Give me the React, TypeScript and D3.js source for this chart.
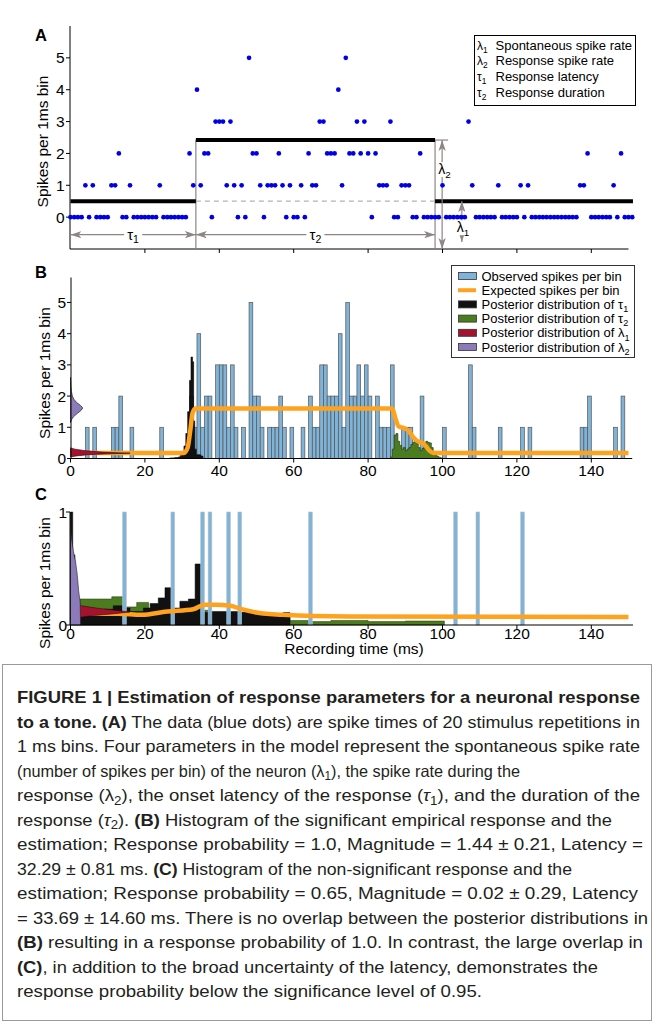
import React from 'react';
import * as d3 from 'd3';

type P = [number, number];

// ---------- DATA ----------
// spike counts per 1 ms bin (panel A dots, panel B histogram)
const spikeCounts = [
  0, 0, 0, 0, 1, 0, 1, 0, 0, 0,
  0, 1, 1, 2, 0, 0, 1, 0, 0, 0,
  0, 0, 0, 0, 1, 0, 0, 0, 0, 0,
  0, 0, 2, 1, 4, 1, 2, 2, 0, 3,
  3, 3, 1, 3, 1, 0, 1, 0, 5, 2,
  2, 1, 0, 1, 1, 1, 2, 1, 0, 1,
  0, 0, 1, 0, 2, 1, 1, 3, 3, 2,
  2, 2, 4, 1, 5, 2, 2, 3, 2, 3,
  2, 0, 2, 1, 1, 1, 3, 0, 0, 1,
  1, 1, 0, 0, 2, 0, 0, 0, 0, 0,
  1, 0, 0, 0, 0, 0, 0, 3, 1, 0,
  0, 0, 0, 0, 0, 1, 0, 0, 0, 0,
  0, 1, 0, 1, 0, 0, 0, 0, 0, 0,
  0, 0, 0, 0, 0, 0, 0, 1, 1, 2,
  0, 0, 0, 0, 0, 0, 1, 0, 2, 0,
  0, 0,
];
const timeTicks = [0, 20, 40, 60, 80, 100, 120, 140];
const countTicks = [0, 1, 2, 3, 4, 5];
const countTicksC = [0, 1];

// panel A model parameters: [tau1 onset, response end, lambda1, lambda2]
const modelA = [33.7, 98, 0.5, 2.42];
// annotation anchors (time of lambda2 arrow, lambda1 arrow; level of tau arrows, bottom of lambda1 arrow)
const annotA = [99.9, 105.2, -0.55, -0.78];

// panel B
const expectedB: P[] = [
  [0, 0.18], [30.5, 0.18], [31.5, 0.35], [32.2, 0.9], [32.8, 1.45], [33.6, 1.6],
  [86.5, 1.6], [87.3, 1.3], [88.2, 1.03], [89.5, 0.98], [90.8, 0.9], [92, 0.7],
  [93.2, 0.56], [94.5, 0.5], [95.5, 0.4], [96.5, 0.25], [97.5, 0.18], [150, 0.18],
];
const tau1PostB: P[] = [
  [26.5, 0.01], [27, 0.02], [28, 0.03], [29, 0.05], [29.5, 0.1], [30, 0.2], [30.5, 0.4],
  [31, 0.8], [31.5, 1.5], [32, 2.5], [32.4, 3.25], [32.8, 3.1], [33.1, 1.2], [33.4, 0.3],
  [33.8, 0.12], [35, 0.08], [35.6, 0],
];
const tau2PostB: P[] = [
  [86, 0.05], [86.5, 0.3], [87, 0.75], [87.5, 0.8], [88, 0.55], [88.5, 0.42], [89, 0.3],
  [89.5, 0.35], [90, 0.25], [90.5, 0.3], [91, 0.35], [91.5, 0.45], [92, 0.52], [92.5, 0.55],
  [93, 0.48], [93.5, 0.35], [94, 0.25], [94.5, 0.32], [95, 0.45], [95.5, 0.55], [96, 0.52],
  [96.5, 0.5], [97, 0.35], [97.5, 0.2], [98, 0.12], [98.5, 0.07], [99, 0.04], [99.5, 0.02], [100, 0],
];
// [rate value, width in ms]
const lambda1PostB: P[] = [
  [0.05, 0], [0.08, 1.5], [0.12, 4.5], [0.15, 10], [0.17, 16], [0.2, 9], [0.25, 4],
  [0.3, 1.2], [0.34, 0],
];
const lambda2PostB: P[] = [
  [1.15, 0], [1.25, 0.3], [1.35, 0.9], [1.45, 1.9], [1.55, 2.9], [1.62, 3.3], [1.7, 2.7],
  [1.8, 1.6], [1.9, 0.9], [2.0, 0.5], [2.15, 0.25], [2.3, 0.12], [2.5, 0.04], [2.6, 0],
];

// panel C
const spikeBinsC = [14, 27, 35, 37, 42, 45, 64, 103, 109, 121];
const expectedC: P[] = [
  [0, 0.1], [13, 0.1], [19, 0.09], [26, 0.12], [33, 0.14], [36, 0.18], [39, 0.18],
  [43, 0.17], [46, 0.14], [50, 0.11], [57, 0.09], [75, 0.075], [150, 0.07],
];
const tau1PostC: P[] = [
  [0, 1.0], [0.6, 0.62], [1.2, 0.35], [1.8, 0.2], [2.5, 0.13], [5, 0.12], [9, 0.14],
  [11.5, 0.17], [14.2, 0.15], [16, 0.12], [19.6, 0.15], [21.4, 0.19], [23.6, 0.24],
  [25.4, 0.33], [27.2, 0.15], [29.4, 0.21], [31.7, 0.23], [33.5, 0.54], [35.3, 0.11],
  [37.5, 0.12], [45, 0.11], [51.8, 0.08], [57.2, 0.11], [59, 0],
];
const tau2PostC: P[] = [
  [2.5, 0.23], [11.1, 0.25], [14.2, 0.16], [17.8, 0.2], [21, 0.14], [27, 0.1],
  [35.3, 0.13], [37.5, 0.11], [52, 0.1], [59, 0.04], [64, 0.03], [70, 0.04], [80, 0.03],
  [90, 0.035], [100.5, 0],
];
const lambda1PostC: P[] = [
  [0.04, 0], [0.06, 1], [0.08, 5], [0.1, 12], [0.115, 16], [0.13, 12], [0.15, 7],
  [0.17, 3], [0.19, 0.8], [0.21, 0],
];
const lambda2PostC: P[] = [
  [0, 2.7], [0.2, 2.6], [0.3, 2.2], [0.45, 1.8], [0.55, 1.4], [0.65, 0.8], [0.73, 0.4],
  [0.8, 0.15], [0.9, 0.05], [1.0, 0],
];

// legends
const legendA: [string, string, string][] = [
  ['λ', '1', 'Spontaneous spike rate'],
  ['λ', '2', 'Response spike rate'],
  ['τ', '1', 'Response latency'],
  ['τ', '2', 'Response duration'],
];
const legendB: [string, string, string, string][] = [
  ['Observed spikes per bin', '', '', 'obs'],
  ['Expected spikes per bin', '', '', 'exp'],
  ['Posterior distribution of ', 'τ', '1', 'tau1'],
  ['Posterior distribution of ', 'τ', '2', 'tau2'],
  ['Posterior distribution of ', 'λ', '1', 'lam1'],
  ['Posterior distribution of ', 'λ', '2', 'lam2'],
];

// caption
type Seg = [string, string?];
const captionLines: Seg[][] = [
  [['FIGURE 1 | Estimation of response parameters for a neuronal response', 'b']],
  [['to a tone. (A)', 'b'], [' The data (blue dots) are spike times of 20 stimulus repetitions in']],
  [['1 ms bins. Four parameters in the model represent the spontaneous spike rate']],
  [['(number of spikes per bin) of the neuron (λ'], ['1', 's'], ['), the spike rate during the']],
  [['response (λ'], ['2', 's'], ['), the onset latency of the response ('], ['τ', 'i'], ['1', 's'], ['), and the duration of the']],
  [['response ('], ['τ', 'i'], ['2', 's'], ['). '], ['(B)', 'b'], [' Histogram of the significant empirical response and the']],
  [['estimation; Response probability = 1.0, Magnitude = 1.44 ± 0.21, Latency =']],
  [['32.29 ± 0.81 ms. '], ['(C)', 'b'], [' Histogram of the non-significant response and the']],
  [['estimation; Response probability = 0.65, Magnitude = 0.02 ± 0.29, Latency']],
  [['= 33.69 ± 14.60 ms. There is no overlap between the posterior distributions in']],
  [['(B)', 'b'], [' resulting in a response probability of 1.0. In contrast, the large overlap in']],
  [['(C)', 'b'], [', in addition to the broad uncertainty of the latency, demonstrates the']],
  [['response probability below the significance level of 0.95.']],
];
const captionRight = [640, 640, 640, 520, 640, 612, 643, 572, 638, 648, 643, 598, 482];

// ---------- STYLE ----------
const FONT = "'Liberation Sans', Arial, Helvetica, sans-serif";
const C_ORANGE = '#ffa31f';
const C_BLUEBAR = '#7fb3d8';
const C_GREEN = '#4b7d20';
const C_RED = '#a3122f';
const C_PURPLE = '#8c7bbb';
const C_BLACK = '#111111';
const C_GRAY = '#8e8585';

const x = d3.scaleLinear().domain([0, 150]).range([70.5, 628.5]);
const yA = d3.scaleLinear().domain([-1, 6]).range([249, 26]);
const yB = d3.scaleLinear().domain([0, 5.8]).range([458.5, 277.5]);
const yC = d3.scaleLinear().domain([0, 1]).range([625, 512]);

const stepArea = (y: d3.ScaleLinear<number, number>) =>
  d3.area<P>().curve(d3.curveStepAfter).x((d) => x(d[0])).y0(y(0)).y1((d) => y(d[1]));
const hArea = (y: d3.ScaleLinear<number, number>) =>
  d3.area<P>().curve(d3.curveLinear).y((d) => y(d[0])).x0(x(0)).x1((d) => x(d[1]));
const smoothLine = (y: d3.ScaleLinear<number, number>) =>
  d3.line<P>().curve(d3.curveMonotoneX).x((d) => x(d[0])).y((d) => y(d[1]));

function YAxis({ y, ticks, x0, top, bottom, labelX }: any) {
  return (
    <g>
      <line x1={x0} x2={x0} y1={top} y2={bottom} stroke="#000" strokeWidth={1} />
      {ticks.map((t: number) => (
        <g key={t}>
          <line x1={x0 - 4} x2={x0} y1={y(t)} y2={y(t)} stroke="#000" strokeWidth={1} />
          <text x={labelX} y={y(t)} dy="0.36em" textAnchor="end" fontSize={15.5} fontFamily={FONT}>
            {t}
          </text>
        </g>
      ))}
    </g>
  );
}

function XAxis({ yPos, ticks, labels, labelY, end, x0 }: any) {
  return (
    <g>
      <line x1={x0} x2={end} y1={yPos} y2={yPos} stroke="#000" strokeWidth={1} />
      {ticks.map((t: number) => (
        <g key={t}>
          <line x1={x(t)} x2={x(t)} y1={yPos} y2={yPos + 4} stroke="#000" strokeWidth={1} />
          {labels && (
            <text x={x(t)} y={labelY} textAnchor="middle" fontSize={15.5} fontFamily={FONT}>
              {t}
            </text>
          )}
        </g>
      ))}
    </g>
  );
}

function SubSym({ sym, sub, size }: { sym: string; sub: string; size: number }) {
  return (
    <>
      <tspan>{sym}</tspan>
      <tspan fontSize={size * 0.7} dy={size * 0.25}>
        {sub}
      </tspan>
      <tspan dy={-size * 0.25}></tspan>
    </>
  );
}

export default function App() {
  const [tau1, tauEnd, lam1, lam2] = modelA;
  const [tLam2Arrow, tLam1Arrow, tauArrowLevel, lam1ArrowBottom] = annotA;
  const yTau = yA(tauArrowLevel);

  const capFont = 16.5;
  const capX = 17;
  const subShift = 3.5;

  return (
    <svg
      width={654}
      height={1025}
      style={{ position: 'absolute', left: 0, top: 0, background: '#fff' }}
      fontFamily={FONT}
    >
      <defs>
        <marker
          id="ah"
          viewBox="0 0 12 8"
          refX={12}
          refY={4}
          markerWidth={11}
          markerHeight={7.3}
          markerUnits="userSpaceOnUse"
          orient="auto-start-reverse"
        >
          <path d="M0,0 L12,4 L0,8 L3,4 z" fill={C_GRAY} />
        </marker>
      </defs>
      <rect width={654} height={1025} fill="#fff" />

      {/* ================= PANEL A ================= */}
      <text x={35} y={41} fontSize={16.5} fontWeight="bold" fontFamily={FONT}>A</text>
      <text
        transform={`translate(48,${(yA(-1) + yA(6)) / 2 + 4}) rotate(-90)`}
        textAnchor="middle"
        fontSize={15.5}
        fontFamily={FONT}
      >
        Spikes per 1ms bin
      </text>
      <YAxis y={yA} ticks={countTicks} x0={70} top={yA(6)} bottom={yA(-1)} labelX={64.5} />
      <XAxis yPos={yA(-1)} ticks={timeTicks.slice(1)} labels={false} end={x(150)} x0={70} />

      {/* model lines */}
      <line x1={x(tau1)} x2={x(tauEnd)} y1={yA(lam1)} y2={yA(lam1)} stroke="#b3b3b3" strokeWidth={1.3} strokeDasharray="5 4" />
      <line x1={x(tau1)} x2={x(tau1)} y1={yA(lam2)} y2={yA(-1)} stroke={C_GRAY} strokeWidth={1.2} />
      <line x1={x(tauEnd)} x2={x(tauEnd)} y1={yA(lam2)} y2={yA(-1)} stroke={C_GRAY} strokeWidth={1.2} />
      <line x1={x(tauEnd)} x2={x(tLam2Arrow + 1.6)} y1={yA(lam2)} y2={yA(lam2)} stroke={C_GRAY} strokeWidth={1.2} />
      <line x1={x(0)} x2={x(tau1)} y1={yA(lam1)} y2={yA(lam1)} stroke="#000" strokeWidth={4} />
      <line x1={x(tau1)} x2={x(tauEnd)} y1={yA(lam2)} y2={yA(lam2)} stroke="#000" strokeWidth={4} />
      <line x1={x(tauEnd)} x2={x(151.2)} y1={yA(lam1)} y2={yA(lam1)} stroke="#000" strokeWidth={4} />

      {/* arrows */}
      <line x1={x(0)} x2={x(tau1)} y1={yTau} y2={yTau} stroke={C_GRAY} strokeWidth={1.2} markerStart="url(#ah)" markerEnd="url(#ah)" />
      <line x1={x(tau1)} x2={x(tauEnd)} y1={yTau} y2={yTau} stroke={C_GRAY} strokeWidth={1.2} markerStart="url(#ah)" markerEnd="url(#ah)" />
      <line x1={x(tLam2Arrow)} x2={x(tLam2Arrow)} y1={yA(lam2)} y2={yA(-1)} stroke={C_GRAY} strokeWidth={1.2} markerStart="url(#ah)" markerEnd="url(#ah)" />
      <line x1={x(tLam1Arrow)} x2={x(tLam1Arrow)} y1={yA(lam1)} y2={yA(lam1ArrowBottom)} stroke={C_GRAY} strokeWidth={1.2} markerStart="url(#ah)" markerEnd="url(#ah)" />

      {/* arrow labels */}
      <rect x={x(tau1 / 2) - 9} y={yTau - 8} width={18} height={15} fill="#fff" />
      <text x={x(tau1 / 2) - 6} y={yTau + 5} fontSize={15} fontFamily={FONT}>
        <SubSym sym="τ" sub="1" size={15} />
      </text>
      <rect x={x((tau1 + tauEnd) / 2) - 9} y={yTau - 8} width={18} height={15} fill="#fff" />
      <text x={x((tau1 + tauEnd) / 2) - 6} y={yTau + 5} fontSize={15} fontFamily={FONT}>
        <SubSym sym="τ" sub="2" size={15} />
      </text>
      <rect x={x(tLam2Arrow) - 4} y={yA(lam2) + 22} width={16} height={15} fill="#fff" />
      <text x={x(tLam2Arrow) - 4} y={yA(lam2) + 34} fontSize={14} fontFamily={FONT}>
        <SubSym sym="λ" sub="2" size={14} />
      </text>
      <rect x={x(tLam1Arrow) - 6} y={yA(lam1) + 19} width={16} height={15} fill="#fff" />
      <text x={x(tLam1Arrow) - 5} y={yA(lam1) + 31} fontSize={14} fontFamily={FONT}>
        <SubSym sym="λ" sub="1" size={14} />
      </text>

      {/* dots */}
      {spikeCounts.map((c, i) => (
        <circle key={i} cx={x(i)} cy={yA(c)} r={2.35} fill="#0000e6" />
      ))}

      {/* legend A */}
      <rect x={474.5} y={35.5} width={161} height={70} fill="#fff" stroke="#000" strokeWidth={1} />
      {legendA.map((d, i) => (
        <g key={i}>
          <text x={477} y={49.5 + i * 15.8} fontSize={12} fontFamily={FONT}>
            <SubSym sym={d[0]} sub={d[1]} size={12} />
          </text>
          <text x={495.5} y={49.5 + i * 15.8} fontSize={13} fontFamily={FONT}>
            {d[2]}
          </text>
        </g>
      ))}

      {/* ================= PANEL B ================= */}
      <text x={35} y={278} fontSize={16.5} fontWeight="bold" fontFamily={FONT}>B</text>
      <text
        transform={`translate(50,373) rotate(-90)`}
        textAnchor="middle"
        fontSize={15.5}
        fontFamily={FONT}
      >
        Spikes per 1ms bin
      </text>
      {spikeCounts.map((c, i) =>
        c > 0 ? (
          <rect
            key={i}
            x={x(i)}
            y={yB(c)}
            width={x(i + 1) - x(i)}
            height={yB(0) - yB(c)}
            fill={C_BLUEBAR}
            stroke="#555"
            strokeWidth={0.7}
          />
        ) : null
      )}
      <path d={stepArea(yB)(tau2PostB) || ''} fill={C_GREEN} stroke="#1d2e0c" strokeWidth={0.6} />
      <path d={stepArea(yB)(tau1PostB) || ''} fill={C_BLACK} stroke="#000" strokeWidth={0.6} />
      <path d={smoothLine(yB)(expectedB) || ''} fill="none" stroke={C_ORANGE} strokeWidth={4.5} />
      <path d={hArea(yB)(lambda1PostB) || ''} fill={C_RED} stroke="#2a0008" strokeWidth={0.6} />
      <path d={hArea(yB)(lambda2PostB) || ''} fill={C_PURPLE} stroke="#222" strokeWidth={0.7} />
      <YAxis y={yB} ticks={countTicks} x0={71} top={277.5} bottom={yB(0)} labelX={66} />
      <XAxis yPos={yB(0)} ticks={timeTicks} labels={true} labelY={475.5} end={x(151)} x0={71} />

      {/* legend B */}
      <rect x={451.5} y={265.5} width={183} height={92} fill="#fff" stroke="#333" strokeWidth={1} />
      {legendB.map((d, i) => {
        const cy = 276 + i * 14.2;
        const kind = d[3];
        const fill =
          kind === 'obs' ? C_BLUEBAR : kind === 'tau1' ? C_BLACK : kind === 'tau2' ? C_GREEN : kind === 'lam1' ? C_RED : C_PURPLE;
        return (
          <g key={i}>
            {kind === 'exp' ? (
              <line x1={458} x2={476} y1={cy} y2={cy} stroke={C_ORANGE} strokeWidth={4} />
            ) : (
              <rect x={458.5} y={cy - 3.5} width={18} height={7} fill={fill} stroke="#333" strokeWidth={0.8} />
            )}
            <text x={481.5} y={cy + 4.5} fontSize={13} fontFamily={FONT}>
              {d[0]}
              {d[1] && <SubSym sym={d[1]} sub={d[2]} size={13} />}
            </text>
          </g>
        );
      })}

      {/* ================= PANEL C ================= */}
      <text x={35} y={500} fontSize={16.5} fontWeight="bold" fontFamily={FONT}>C</text>
      <text
        transform={`translate(50,583) rotate(-90)`}
        textAnchor="middle"
        fontSize={15.5}
        fontFamily={FONT}
      >
        Spikes per 1ms bin
      </text>
      <path d={stepArea(yC)(tau2PostC) || ''} fill={C_GREEN} stroke="#1d2e0c" strokeWidth={0.5} />
      <path d={stepArea(yC)(tau1PostC) || ''} fill={C_BLACK} stroke="#000" strokeWidth={0.5} />
      {spikeBinsC.map((b) => (
        <rect
          key={b}
          x={x(b)}
          y={yC(1)}
          width={x(b + 1) - x(b)}
          height={yC(0) - yC(1)}
          fill={C_BLUEBAR}
          stroke="#b9c3cb"
          strokeWidth={0.6}
        />
      ))}
      <path d={smoothLine(yC)(expectedC) || ''} fill="none" stroke={C_ORANGE} strokeWidth={4.5} />
      <path d={hArea(yC)(lambda1PostC) || ''} fill={C_RED} stroke="#2a0008" strokeWidth={0.5} />
      <path d={hArea(yC)(lambda2PostC) || ''} fill={C_PURPLE} stroke="#222" strokeWidth={0.6} />
      <YAxis y={yC} ticks={countTicksC} x0={70} top={yC(1)} bottom={yC(0)} labelX={67} />
      <XAxis yPos={yC(0)} ticks={timeTicks} labels={true} labelY={639} end={x(151.2)} x0={70} />
      <text x={354} y={654} textAnchor="middle" fontSize={15.5} fontFamily={FONT}>
        Recording time (ms)
      </text>

      {/* ================= CAPTION ================= */}
      <rect x={2.5} y={664.5} width={649} height={356} fill="none" stroke="#9a9a9a" strokeWidth={1} />
      {captionLines.map((segs, li) => {
        let shifted = false;
        return (
          <text
            key={li}
            x={capX}
            y={703 + li * 24.5}
            fontSize={capFont}
            fontFamily={FONT}
            fill="#231f20"
            textLength={captionRight[li] - capX}
            lengthAdjust="spacingAndGlyphs"
            style={{ whiteSpace: 'pre' }}
          >
            {segs.map((s, si) => {
              const kind = s[1];
              if (kind === 's') {
                shifted = true;
                return (
                  <tspan key={si} fontSize={capFont * 0.72} dy={subShift}>
                    {s[0]}
                  </tspan>
                );
              }
              const dy = shifted ? -subShift : undefined;
              shifted = false;
              return (
                <tspan
                  key={si}
                  dy={dy}
                  fontWeight={kind === 'b' ? 'bold' : undefined}
                  fontStyle={kind === 'i' ? 'italic' : undefined}
                >
                  {s[0]}
                </tspan>
              );
            })}
          </text>
        );
      })}
    </svg>
  );
}
